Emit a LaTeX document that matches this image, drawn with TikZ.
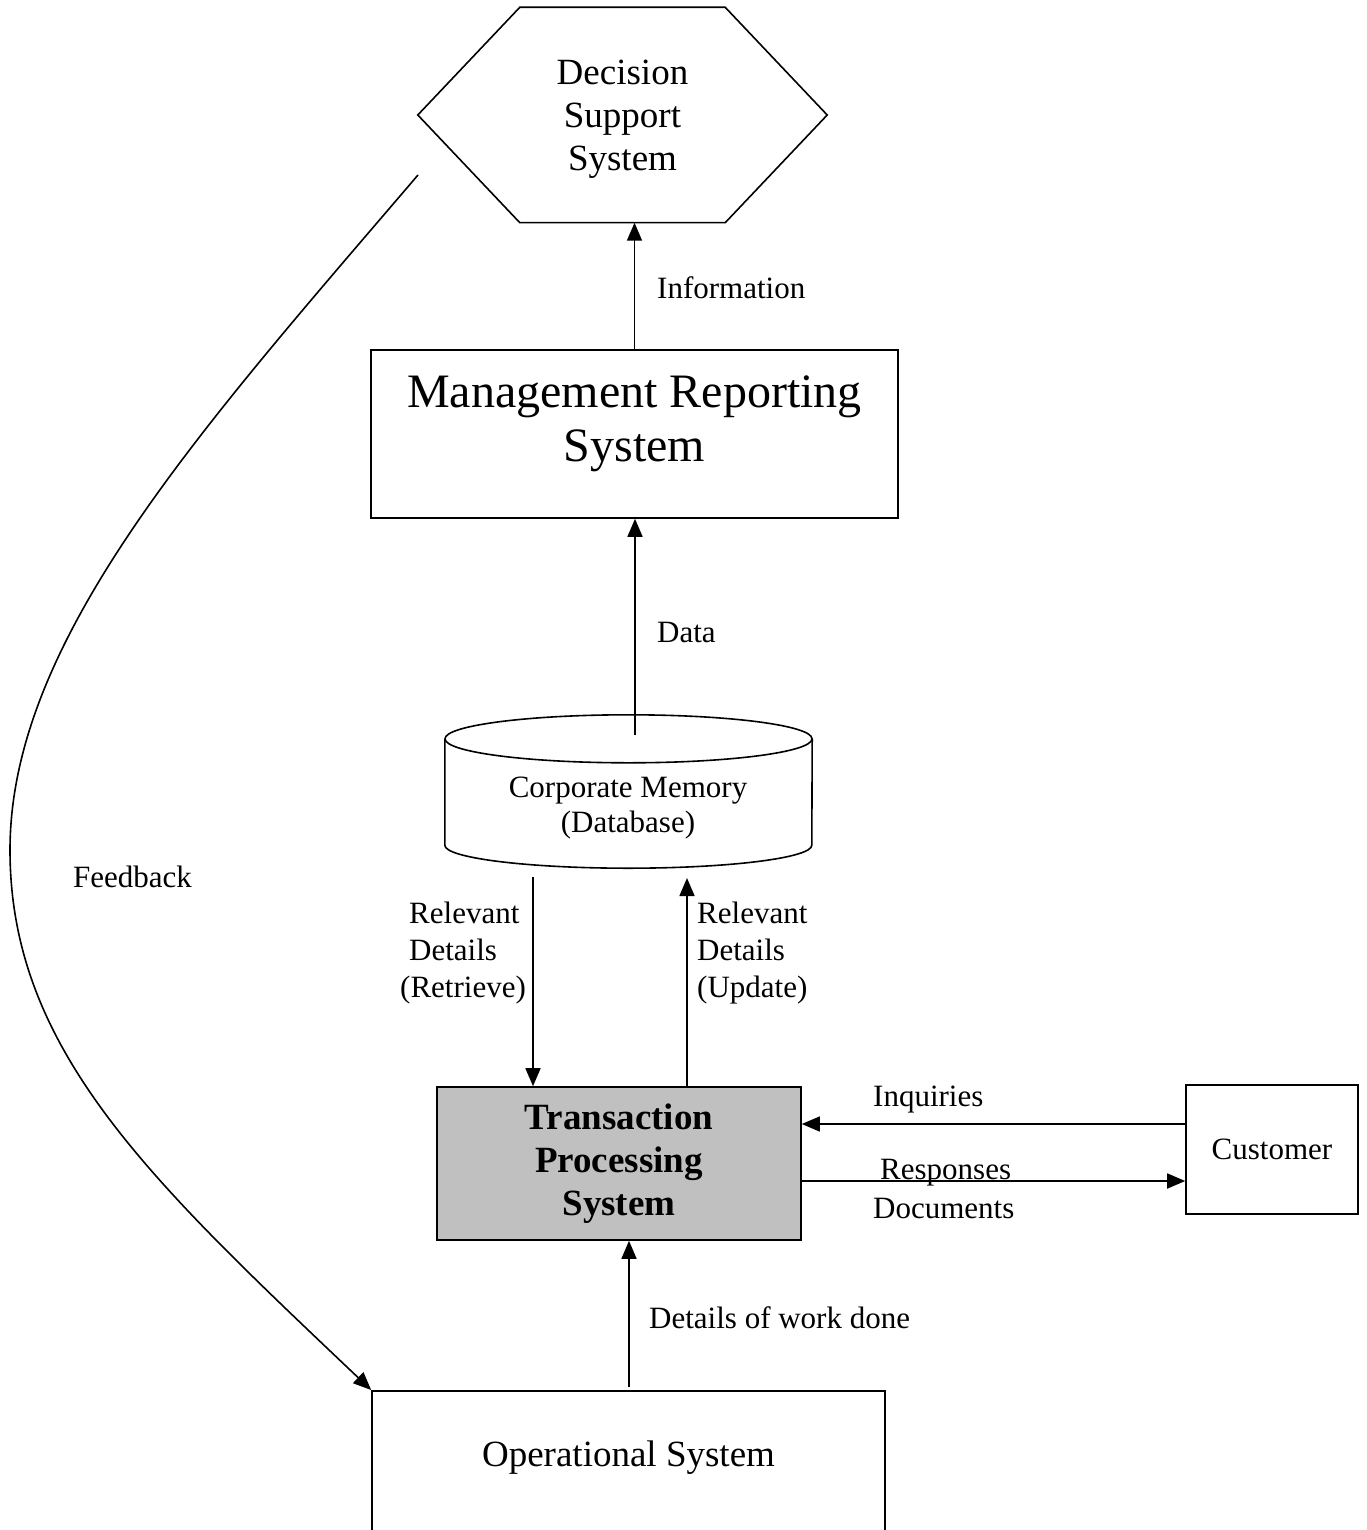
\documentclass[tikz,border=0pt]{standalone}
\usepackage{fontspec}
\setmainfont{Liberation Serif}
\usetikzlibrary{arrows.meta,calc}

\tikzset{
  line/.style={line width=1.6pt, draw=black},
  arr/.style={line, -{Triangle[length=18pt,width=15pt]}},
  box/.style={line, rectangle, inner sep=0pt},
  small/.style={inner sep=0pt, font=\fontsize{31}{37}\selectfont},
  mid/.style={inner sep=0pt, font=\fontsize{37}{43}\selectfont, align=center},
}

\begin{document}
\begin{tikzpicture}[x=1pt, y=-1pt]
\useasboundingbox (0,0) rectangle (1366,1530);
\clip (0,0) rectangle (1366,1530);

% Decision support system (hexagon)
\node[inner sep=0pt, minimum width=409pt, minimum height=215pt] (dss) at (622.5,115) {};
\draw[line] ($(dss.north west)+(102,0)$) -- ($(dss.north east)+(-102,0)$)
  -- (dss.east) -- ($(dss.south east)+(-102,0)$) -- ($(dss.south west)+(102,0)$)
  -- (dss.west) -- cycle;
\node[mid] (dsst) at ($(dss.center)+(0,4)$) {Decision\\Support\\System};

% Management reporting system
\node[box, minimum width=527pt, minimum height=168pt] (mrs) at (634.5,434) {};
\node[inner sep=0pt, align=center, font=\fontsize{48}{54}\selectfont] (mrst)
  at ($(mrs.center)+(0,-10)$) {Management Reporting\\System};

% Corporate memory (cylinder)
\node[inner sep=0pt, minimum width=367pt, minimum height=106pt] (cm) at (628.5,792) {};
\draw[line] (cm.north west) -- (cm.south west)
  arc[start angle=180, end angle=360, x radius=183.5pt, y radius=23pt]
  -- (cm.north east);
\draw[line] (cm.north) ellipse[x radius=183.5pt, y radius=24pt];
\node[inner sep=0pt, align=center, font=\fontsize{31}{35}\selectfont] (cmt)
  at (628,808) {Corporate Memory\\(Database)};

% Transaction processing system
\node[box, fill={rgb,255:red,192;green,192;blue,192}, minimum width=364pt, minimum height=153pt,
  align=center, font=\fontsize{37}{43}\selectfont\bfseries] (tps) at (619,1163.5)
  {\raisebox{-3pt}{\parbox{300pt}{\centering Transaction\\Processing\\System}}};

% Customer
\node[box, minimum width=172pt, minimum height=129pt, font=\fontsize{31}{37}\selectfont] (cust)
  at (1272,1149.5) {Customer};

% Operational system (runs off the bottom edge)
\node[box, anchor=north, minimum width=513pt, minimum height=220pt] (ops) at (628.5,1390) {};
\node[mid] (opst) at ($(ops.north)+(0,68)$) {Operational System};

% Connectors
\coordinate (dstart) at (635,735);
\draw[arr] (mrs.north) -- (mrs.north |- dss.south);
\draw[arr] (dstart) -- (dstart |- mrs.south);

\coordinate (rtop) at (533,877);
\coordinate (utop) at (687,878);
\draw[arr] (rtop) -- (rtop |- tps.north);
\draw[arr] (utop |- tps.north) -- (utop);

\coordinate (iq) at (0,1124);
\coordinate (rs) at (0,1181);
\draw[arr] (cust.west |- iq) -- (tps.east |- iq);
\draw[arr] (tps.east |- rs) -- (cust.west |- rs);

\coordinate (wd) at (629,1387);
\draw[arr] (wd) -- (wd |- tps.south);

\coordinate (fbs) at (418,175);
\draw[arr] (fbs) .. controls (200,430) and (10,640) .. (10,850)
  .. controls (10,1050) and (150,1180) .. (ops.north west);

% Labels
\node[small, anchor=west] (linfo) at (657,288) {Information};
\node[small, anchor=west] (ldata) at (657,632) {Data};
\node[small, anchor=west] (lfb) at (73,877) {Feedback};
\node[small, anchor=west, align=left] (lret) at (400,953)
  {\hspace*{9pt}Relevant\\\hspace*{9pt}Details\\(Retrieve)};
\node[small, anchor=west, align=left] (lupd) at (697,953)
  {Relevant\\Details\\(Update)};
\node[small, anchor=west] (linq) at (873,1100) {Inquiries};
\node[small, anchor=west] (lresp) at (880,1173) {Responses};
\node[small, anchor=west] (ldoc) at (873,1208) {Documents};
\node[small, anchor=west] (lwork) at (649,1318) {Details of work done};

\end{tikzpicture}
\end{document}
